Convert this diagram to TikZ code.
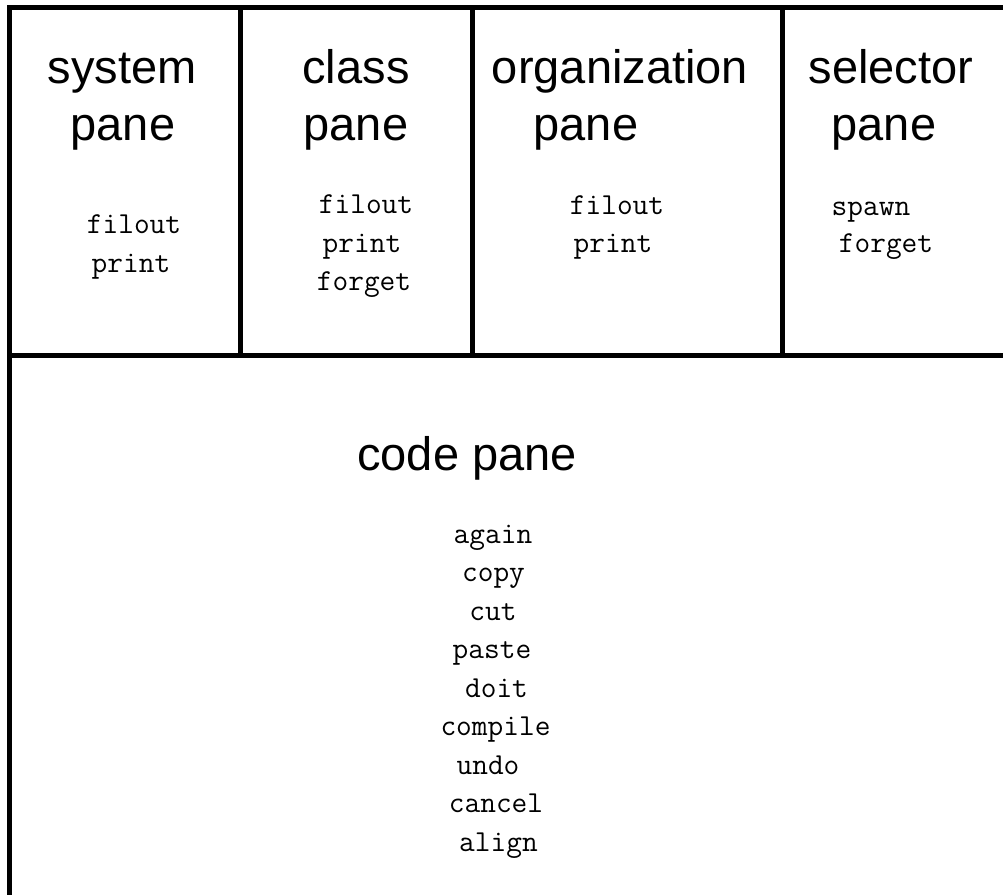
\documentclass[tikz,border=0pt]{standalone}
\usepackage{fontspec}
\setmainfont{Liberation Sans}
\begin{document}
\begin{tikzpicture}[x=1pt,y=-1pt,
  pane/.style={line width=4.5pt,line cap=rect},
  title/.style={anchor=base,inner sep=0pt,font=\fontsize{47}{55}\selectfont},
  item/.style={anchor=base,inner sep=0pt,font=\ttfamily\fontsize{30.5}{34}\selectfont}]
\useasboundingbox (0,0) rectangle (1003,894);
% frame
\draw[pane] (9.5,7.5) -- (1010,7.5);
\draw[pane] (9.5,7.5) -- (9.5,900);
\draw[pane] (9.5,355.5) -- (1010,355.5);
\draw[pane] (240.5,7.5) -- (240.5,355.5);
\draw[pane] (472.5,7.5) -- (472.5,355.5);
\draw[pane] (782.5,7.5) -- (782.5,355.5);
% titles
\node[title] (sys1) at (122,83) {system};
\node[title] (sys2) at (123,140) {pane};
\node[title] (cls1) at (356,83) {class};
\node[title] (cls2) at (356,140) {pane};
\node[title] (org1) at (620,83) {organization};
\node[title] (org2) at (586,140) {pane};
\node[title] (sel1) at (891,83) {selector};
\node[title] (sel2) at (884,140) {pane};
\node[title] (code) at (467,470) {code pane};
% system items
\node[item] (s1) at (134,233) {filout};
\node[item] (s2) at (131,272) {print};
% class items
\node[item] (c1) at (366,213) {filout};
\node[item] (c2) at (362,252) {print};
\node[item] (c3) at (364,290) {forget};
% organization items
\node[item] (o1) at (617,214) {filout};
\node[item] (o2) at (613,252) {print};
% selector items
\node[item] (l1) at (871,215) {spawn};
\node[item] (l2) at (886,252) {forget};
% code items
\node[item] (k1) at (493,543) {again};
\node[item] (k2) at (493.5,581.5) {copy};
\node[item] (k3) at (493,620) {cut};
\node[item] (k4) at (492,658.5) {paste};
\node[item] (k5) at (496.5,697) {doit};
\node[item] (k6) at (495.5,735.5) {compile};
\node[item] (k7) at (488,774) {undo};
\node[item] (k8) at (496,812.5) {cancel};
\node[item] (k9) at (498.5,851) {align};
\end{tikzpicture}
\end{document}
